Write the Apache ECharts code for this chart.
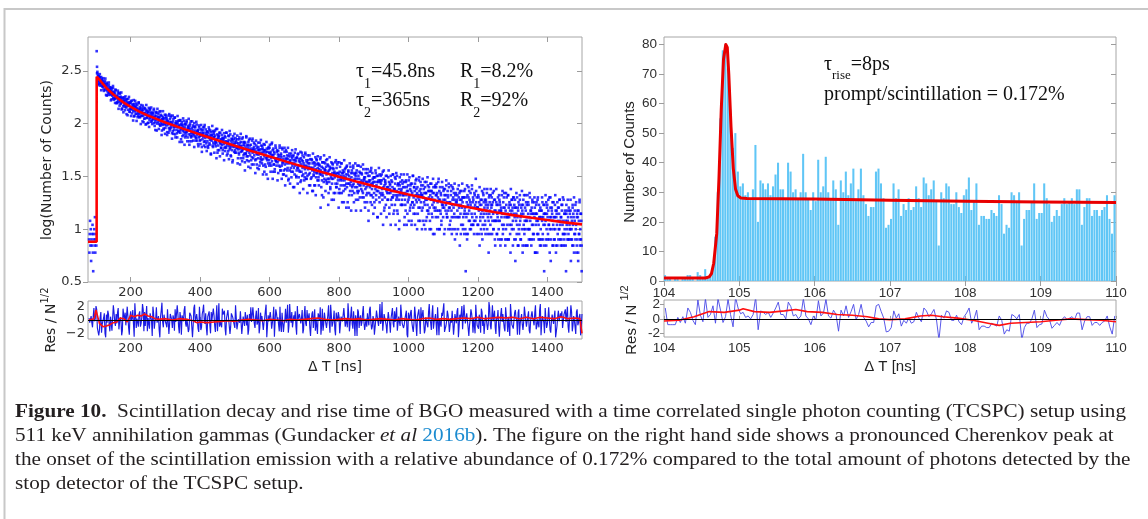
<!DOCTYPE html>
<html><head><meta charset="utf-8">
<script src="https://cdn.jsdelivr.net/npm/echarts@6/dist/echarts.min.js"></script>
<style>html,body{margin:0;padding:0;background:#fff}#c{width:1148px;height:519px}</style>
</head><body><div id="c"></div>
<script>
// ---------------- DATA ----------------
// Left panel: decay histogram, counts per 1-ns bin starting at 80 ns
const decayBinStart = 80, decayBinWidth = 1;
const decayCounts = [
8,6,9,12,7,10,5,8,7,9,11,6,4,9,8,10,7,13,6,8,
9,7,485,345,309,292,250,280,282,251,269,229,275,259,242,276,230,242,255,226,
253,226,212,239,244,228,253,208,227,216,229,184,236,211,223,212,195,232,197,212,
187,204,219,191,208,170,198,201,188,217,176,188,168,200,189,172,210,174,179,156,
181,160,185,194,168,160,172,196,148,176,164,180,156,169,136,174,160,177,146,162,
164,150,177,144,155,164,150,169,123,159,146,153,135,171,148,159,152,129,137,157,
138,163,139,142,125,149,153,131,146,117,153,142,131,164,124,134,144,124,139,151,
115,133,127,156,123,136,143,115,130,119,150,126,134,130,105,135,119,141,126,111,
125,112,137,121,132,99,125,113,133,118,127,102,141,120,109,114,135,127,104,120,
127,109,99,119,125,113,133,101,115,109,119,87,126,109,118,111,100,127,104,115,
123,113,99,116,106,96,131,101,109,118,86,110,97,115,111,90,104,100,121,98,
91,104,116,96,109,83,104,106,98,119,91,100,86,110,103,91,119,94,98,81,
100,85,105,111,92,87,97,114,79,101,93,105,87,98,74,102,92,106,83,95,
97,86,107,82,91,98,88,103,67,96,86,92,78,106,88,98,92,74,81,98,
83,103,84,87,74,92,95,79,91,68,96,88,79,105,74,82,91,76,87,96,
69,83,79,101,76,86,92,69,82,73,98,78,85,83,64,87,74,92,81,69,
81,70,89,77,86,60,80,71,87,75,82,62,93,77,68,73,88,82,65,78,
84,68,61,77,82,73,88,63,75,70,78,52,83,69,78,72,62,85,66,75,
83,74,64,77,68,61,89,65,71,79,53,73,62,77,74,56,68,66,82,64,
59,70,78,63,73,52,69,71,64,81,59,67,55,74,68,59,82,62,65,52,
67,55,70,76,61,57,64,79,50,68,61,72,56,65,45,69,61,72,54,64,
66,56,73,53,61,66,59,71,42,65,57,62,51,74,58,66,62,47,54,67,
55,72,56,58,47,63,66,52,62,43,66,59,52,74,49,55,62,49,59,67,
44,56,53,72,50,58,63,45,56,48,69,53,58,56,41,60,50,64,54,45,
54,46,62,52,59,38,56,47,60,51,56,40,66,53,46,48,62,57,42,53,
58,46,40,54,56,49,63,41,51,47,54,33,58,47,54,49,42,60,45,53,
59,52,42,54,47,40,64,44,50,56,35,50,41,54,52,37,47,45,59,44,
40,47,56,43,51,34,48,50,45,59,39,46,36,52,48,40,59,42,44,33,
46,36,49,54,41,37,44,56,32,47,42,50,38,46,29,49,42,52,36,44,
45,38,52,35,42,47,40,49,25,45,38,42,33,53,40,47,44,31,36,48,
38,51,38,40,31,44,46,35,43,28,47,41,35,53,32,38,44,33,42,48,
29,39,37,51,34,40,45,30,39,32,50,37,42,39,26,42,34,46,38,30,
38,31,45,36,42,23,38,32,43,35,40,26,48,37,31,34,45,41,29,38,
42,31,26,37,40,34,46,16,36,33,39,21,43,32,38,34,28,43,30,37,
42,36,29,39,33,28,46,30,35,40,22,36,28,39,37,25,33,31,43,30,
27,34,41,30,37,22,34,35,31,43,27,33,25,38,34,27,43,29,31,22,
33,24,35,39,29,26,32,42,22,34,29,36,26,32,18,35,29,37,24,31,
33,27,39,25,30,33,27,36,16,32,27,30,23,39,28,34,31,21,25,34,
26,38,27,29,22,33,34,25,32,19,34,30,25,40,22,27,32,23,30,35,
20,28,26,39,24,29,33,20,28,22,37,26,30,29,18,31,24,34,28,21,
28,22,34,26,32,15,28,22,32,25,29,18,36,27,21,24,34,30,20,28,
31,22,18,28,31,24,34,19,26,23,28,13,32,23,29,25,20,33,22,28,
32,27,21,29,24,19,35,21,25,30,15,26,20,29,27,17,24,23,32,22,
19,25,31,22,28,14,24,26,22,32,19,23,17,28,25,20,33,21,23,15,
24,17,27,30,21,19,23,32,15,26,21,27,19,24,12,26,22,28,17,23,
24,19,29,17,22,25,21,28,11,25,19,22,15,29,21,25,23,14,18,26,
19,29,20,21,15,24,26,17,23,12,27,22,18,32,16,20,25,17,23,27,
14,21,19,30,18,22,25,14,20,16,29,19,23,21,12,24,18,26,21,15,
21,16,26,20,24,11,22,17,25,19,22,12,28,19,15,17,26,23,14,20,
23,16,12,21,23,19,27,14,20,17,22,9,25,18,22,19,15,26,16,21,
25,21,15,22,18,13,28,15,19,23,10,19,15,22,21,12,18,17,25,16,
13,19,24,16,21,10,19,21,17,26,14,18,13,23,20,15,27,16,18,11,
18,12,21,23,15,13,17,25,10,20,16,22,14,19,8,21,17,22,13,18,
19,15,24,13,17,20,16,22,7,19,14,17,11,23,16,20,18,10,13,20,
14,23,15,16,10,4,20,13,18,8,21,17,14,25,12,15,19,12,18,22,
10,16,14,24,13,18,20,11,16,12,22,14,17,16,30,18,13,20,16,11,
16,11,20,15,18,7,17,12,19,14,17,9,23,15,11,13,21,18,10,16,
19,12,9,17,18,15,22,10,16,13,17,6,20,14,18,15,11,21,13,17,
20,17,12,18,14,10,23,12,15,19,7,15,12,18,17,9,14,13,20,12,
10,15,19,12,17,7,15,16,13,21,11,14,9,18,16,11,22,13,14,8,
15,10,17,20,13,11,14,21,8,16,13,18,11,15,6,17,14,19,10,15,
16,12,20,10,14,17,13,19,5,16,12,14,9,20,13,16,15,7,10,17,
11,19,12,13,8,16,17,10,15,6,17,14,11,21,9,12,16,10,15,18,
7,13,12,21,10,14,17,8,13,10,20,12,15,14,7,16,11,18,14,9,
14,9,18,13,16,6,14,11,17,12,14,6,19,12,9,11,17,15,8,13,
16,10,7,13,15,12,18,8,13,11,14,4,17,11,14,12,8,18,10,14,
17,13,9,15,11,8,20,10,13,16,5,13,10,16,14,7,12,11,18,10,
8,13,17,10,15,6,13,14,11,18,9,12,8,16,14,10,19,11,12,7,
13,8,15,17,11,9,12,19,7,14,10,15,9,12,4,14,11,15,8,12,
13,9,16,8,11,14,10,15,5,13,10,12,7,17,11,14,13,6,9,15,
9,17,10,11,6,13,14,8,13,5,15,12,9,18,7,10,14,8,12,4
];
// Further points of the same decay (every 2 ns from 103 ns), they widen the visible band
const decayHaloStart = 103, decayHaloStep = 2;
const decayHalo = [
300,235,278,237,294,243,207,264,223,269,204,236,267,187,243,202,187,245,202,221,
166,216,184,227,173,196,157,207,177,157,205,138,178,192,154,197,139,164,128,171,
134,181,142,170,120,156,179,130,158,118,165,136,107,167,118,147,155,106,137,119,
159,115,138,99,141,118,148,103,125,140,98,150,114,101,130,93,138,115,142,105,
126,111,138,95,103,129,86,138,113,89,130,96,121,78,99,131,88,112,80,121,
112,78,102,82,123,89,115,103,72,119,80,94,114,74,101,81,118,85,107,67,
108,71,98,76,112,83,63,100,77,107,68,90,111,63,100,76,68,105,80,93,
60,94,74,104,69,86,61,96,76,64,97,54,81,92,67,97,60,77,55,84,
59,92,65,86,51,77,95,60,80,53,86,67,47,89,56,77,82,49,71,59,
87,56,73,45,76,60,82,50,67,77,46,85,59,49,71,43,76,60,80,53,
69,59,77,47,53,71,41,80,61,44,74,50,67,36,52,76,45,63,39,70,
62,38,56,41,72,47,66,57,34,69,41,51,66,37,57,43,70,45,61,33,
64,35,56,39,67,45,30,58,40,63,35,51,66,30,58,41,35,62,44,54,
29,55,40,62,36,50,30,57,43,33,59,26,46,54,36,59,30,43,27,49,
31,56,35,50,25,45,57,32,47,27,52,36,22,54,29,45,50,24,40,31,
53,30,43,22,45,33,50,26,38,46,23,52,33,26,42,21,46,34,49,29,
41,33,48,25,29,43,20,50,36,23,45,27,41,17,30,48,24,38,19,42,
38,19,33,22,45,25,41,34,16,43,22,30,42,18,34,23,45,26,38,16,
40,18,35,21,42,26,15,36,23,40,18,30,42,15,36,23,19,40,26,34,
15,34,23,41,20,31,16,37,25,18,37,12,29,35,21,38,17,27,14,31,
16,36,21,32,13,28,38,18,29,14,33,22,11,36,16,28,32,13,25,19,
36,16,27,11,29,20,33,14,24,31,11,34,20,14,27,10,31,21,33,17,
27,21,33,13,17,28,11,33,23,12,31,16,27,11,18,32,14,25,11,29,
24,10,21,12,31,16,28,22,10,30,12,18,28,10,22,13,31,15,25,10,
27,10,23,13,30,16,9,25,13,27,10,20,30,10,25,14,11,28,17,23,
9,24,15,29,13,21,10,25,16,10,26,9,19,24,13,27,10,18,9,21,
10,26,13,23,9,19,27,11,20,9,24,14,9,26,9,20,23,10,17,11,
26,11,19,9,21,12,23,9,16,21,9,25,13,10,19,8,22,14,24,11,
19,14,24,9,12,21,9,24,16,9,22,10,19,8,12,24,9,17,8,21,
18,8,15,8,23,10,20,16,7,22,8,13,21,8,17,9,24,11,19,7,
20,8,16,8,22,11,7,18,9,21,8,14,23,7,19,10,7,21,12,17,
7,18,10,22,8,15,8,19,11,8,20,6,14,18,9,20,8,13,7,15,
8,20,9,17,7,14,21,7,16,8,19,11,6,20,8,15,18,7,13,8,
21,7,15,7,16,10,19,8,13,17,7,20,9,8,14,7,17,10,19,8,
15,10,19,8,8,16,7,20,12,8,18,7,15,6,9,19,8,14,7
];
// Left fit curve [ns, counts]
const decayFit = [[77,7.6],[101.9,7.6],[102,278],[106,271],[110,261],[115,249],[120,238],[125,228],[130,218],[140,202],[150,189],[165,172],[180,158],[200,144],[225,130],[250,119],[300,102.5],[350,89.6],[400,78.8],[450,69.5],[500,61.6],[550,54.7],[600,48.7],[650,43.4],[700,38.8],[750,34.8],[800,31.3],[850,28.3],[900,25.6],[950,23.3],[1000,21.3],[1050,19.6],[1100,18.0],[1150,16.7],[1200,15.5],[1250,14.5],[1300,13.6],[1350,12.9],[1400,12.2],[1450,11.6],[1500,11.1]];
// Left residuals: set A at 80+4i ns, set B at 82+4i ns
const decayResStart = 80, decayResStep = 4;
const decayResA = [
0.3,0.1,-0.4,0.5,-0.2,2.1,-1.2,-2.3,0.4,-1.9,-0.8,1.0,-2.6,-0.4,0.9,-1.7,0.2,-1.3,1.1,-0.9,
-0.5,1.8,-0.3,0.0,-1.6,0.7,1.1,-0.8,0.5,-2.2,1.3,0.3,-0.6,2.5,-1.2,-0.2,0.9,-1.0,0.4,1.6,
1.2,-0.7,-1.7,0.4,1.0,-0.1,2.0,-1.3,0.2,-0.4,0.6,-2.6,1.4,-0.3,0.8,0.0,-1.1,1.8,-0.6,0.5,
-1.2,0.2,1.6,-0.5,0.9,-2.0,0.3,0.7,-0.2,2.1,-1.0,0.1,-1.4,1.2,0.4,-0.8,2.3,-0.4,0.0,-1.8,
0.2,-1.1,1.4,-0.1,1.0,-2.3,0.4,-0.8,1.2,-0.2,0.7,-1.8,2.2,0.1,-1.0,-0.4,1.7,0.9,-1.3,0.3,
1.5,0.4,-1.0,0.9,-0.2,-1.2,2.5,-0.7,0.3,1.3,-2.1,0.5,-0.9,1.1,0.8,-1.5,0.0,-0.3,1.9,-0.5,
0.5,-0.7,1.8,-1.1,0.0,0.8,-0.3,1.4,-2.6,0.7,-0.4,0.2,-1.3,2.0,-0.1,1.0,0.4,-1.7,-0.8,1.1,
-1.8,0.0,-0.4,2.3,-0.8,0.4,1.2,-1.4,0.1,-1.0,2.1,-0.2,0.7,0.3,-2.0,0.9,-0.5,1.5,0.2,-1.2,
-0.3,1.3,-0.9,-1.6,0.5,1.0,-0.1,-2.2,1.7,-0.6,0.2,-1.2,0.8,-0.4,2.3,-1.0,0.1,-1.4,1.1,-0.2,
0.6,-1.9,0.3,0.0,1.5,-0.8,-1.1,0.9,-0.5,2.0,-1.3,-0.3,0.7,-2.4,1.2,0.2,-0.9,1.0,-0.4,-1.5,
-1.0,0.8,1.6,-0.4,-1.0,0.1,-2.0,1.4,-0.2,0.4,-0.6,2.7,-1.5,0.3,-0.8,0.0,1.2,-1.9,0.6,-0.5,
1.3,-0.2,-1.6,0.5,-0.9,2.1,-0.3,-0.7,0.2,-2.2,1.1,-0.1,1.5,-1.2,-0.4,0.8,-2.4,0.4,0.0,1.9,
-0.2,1.2,-1.5,0.1,-1.1,2.4,-0.4,0.9,-1.3,0.2,-0.7,1.9,-2.3,-0.1,1.1,0.5,-1.8,-0.9,1.4,-0.3,
-1.6,-0.4,1.1,-0.9,0.2,1.3,-2.6,0.8,-0.3,-1.4,2.3,-0.5,1.0,-1.2,-0.8,1.6,0.0,0.3,-2.0,0.6,
-0.6,0.8,-1.9,1.2,0.0,-0.7,0.3,-1.5,2.7,-0.8,0.4,-0.2,1.4,-2.1,0.1,-1.0,-0.4,1.8,0.9,-1.2,
1.9,0.0,0.5,-2.4,0.9,-0.4,-1.3,1.5,-0.1,1.1,-2.2,0.2,-0.7,-0.3,2.1,-1.0,0.6,-1.6,-0.2,1.3,
0.3,1.1,-1.4,0.1,-1.1,2.4,-0.4,0.9,-2.0,0.2,-0.7,1.9,-1.5,-0.1,1.1,0.5,-2.6,-0.9,1.4,-0.3,
0.4,-1.2,0.8,1.6,-0.5,-1.0,0.1,2.2,-1.7,0.6,-0.2,1.2,-0.8,0.5,-2.3,0.9
];
const decayResB = [
-0.4,0.6,-1.1,1.8,0.2,1.6,-0.9,-1.5,1.2,-0.6,0.3,-2.0,0.8,1.4,-0.7,0.5,-1.6,2.2,-0.3,0.9,
1.1,-1.4,0.4,-2.3,1.7,0.0,-0.8,2.0,-1.2,0.6,-0.1,1.5,-2.5,0.7,0.2,-1.0,1.3,-0.5,2.4,-1.7,
-0.9,2.1,0.3,-1.3,0.8,-2.4,1.0,-0.2,1.9,-0.7,-1.5,0.5,2.6,-1.1,0.1,-0.6,1.6,-2.1,0.9,0.0,
0.7,-1.6,-0.3,2.2,-1.0,1.2,-2.2,0.4,1.5,-0.5,0.2,-1.8,1.1,0.6,-2.6,1.8,-0.4,0.9,-1.3,2.0,
-1.5,0.9,2.3,-0.6,-1.2,0.5,1.3,-2.0,0.0,1.7,-0.9,0.3,-1.7,2.5,-0.2,-1.1,0.8,1.4,-2.3,0.6,
0.2,-2.1,1.0,0.4,-0.7,2.2,-1.4,0.1,-0.4,1.6,-1.9,0.7,1.2,-0.8,-2.2,0.9,1.9,-0.3,0.5,-1.2,
1.4,-0.3,-2.0,1.1,0.6,-1.5,0.3,2.3,-0.9,-0.2,1.2,-1.3,0.4,-2.5,1.6,0.0,-0.7,2.0,-1.8,0.8,
-0.6,1.7,0.5,-1.9,2.4,-0.4,-1.1,0.7,1.3,-2.2,0.1,0.9,-0.5,1.5,-1.4,2.1,-0.9,-0.1,1.0,-2.4,
0.9,-1.2,1.6,0.2,-2.1,0.6,1.9,-0.8,-1.6,1.1,0.4,-0.3,2.2,-1.9,0.7,-0.5,1.4,-2.3,0.3,1.2,
-2.0,0.5,-0.2,1.8,-1.0,0.3,2.5,-1.7,0.8,-0.6,1.3,-2.4,0.0,1.6,-1.2,0.7,-0.4,2.1,-1.5,0.2,
1.0,-0.8,2.0,-1.4,0.6,-2.2,0.1,1.5,-0.9,2.4,-0.1,-1.6,0.9,0.4,-2.0,1.2,-0.6,0.3,1.8,-1.1,
-0.3,1.9,-1.7,0.8,2.3,-0.5,-1.2,0.2,1.4,-2.6,0.6,1.1,-0.4,-1.8,2.0,-0.9,0.5,1.6,-2.1,0.0,
1.5,-2.0,0.4,-0.7,1.2,0.0,-1.5,2.2,-0.3,0.9,-2.3,1.7,0.1,-1.0,0.6,2.5,-1.3,-0.2,0.8,-1.8,
0.3,1.4,-2.2,0.9,-0.5,1.8,-1.0,-0.1,2.1,-1.6,0.7,-0.4,1.3,-2.4,0.2,1.0,-1.9,0.6,2.3,-0.8,
-1.3,0.1,1.7,-0.9,-2.1,0.8,0.4,-0.6,1.9,-1.4,2.2,-0.2,-1.1,0.5,1.5,-2.5,0.9,-0.3,1.2,-1.7,
0.6,-1.8,0.2,2.4,-0.7,-1.3,1.1,0.3,-2.2,1.6,-0.5,0.9,-1.5,2.0,-0.1,-0.9,1.3,-2.0,0.7,0.4,
-0.8,2.2,-1.0,0.1,1.5,-2.3,0.6,-0.4,1.8,-1.2,0.3,2.1,-1.9,0.8,-0.6,1.4,-2.4,0.5,-0.2,1.0,
1.3,-1.5,0.7,-0.3,2.0,-1.9,0.5,1.2,-0.8,0.0,-2.1,1.6,-0.4,0.9,-1.1
];
const decayResSmooth = [[80,0],[95,0.2],[100,1.5],[104,1.3],[110,-0.5],[120,-1.0],[130,-0.9],[140,-0.7],[150,-0.4],[160,-0.3],[170,0.3],[180,0.2],[190,-0.3],[200,0.7],[210,0.5],[220,0.7],[230,0.6],[240,0.9],[250,0.6],[260,0.5],[270,0.2],[280,0.1],[300,0.2],[320,0.0],[340,0.2],[360,0.1],[380,-0.1],[390,-0.4],[400,-0.3],[420,-0.4],[440,-0.3],[460,-0.2],[480,-0.1],[500,-0.2],[520,0.0],[540,0.1],[560,0.0],[580,-0.1],[600,0.1],[620,0.0],[640,-0.1],[660,0.1],[680,0.0],[700,0.1],[720,0.2],[740,0.3],[760,0.1],[780,0.0],[800,0.1],[820,0.2],[840,0.1],[860,0.2],[880,0.0],[900,0.1],[920,0.2],[940,0.1],[960,0.0],[980,0.2],[1000,0.1],[1020,0.0],[1040,0.2],[1060,0.3],[1080,0.1],[1100,0.2],[1120,0.1],[1140,0.2],[1160,0.3],[1180,0.2],[1200,0.4],[1220,0.2],[1240,0.3],[1260,0.4],[1280,0.3],[1300,0.4],[1320,0.2],[1340,0.4],[1360,0.2],[1380,0.4],[1400,0.3],[1420,0.2],[1440,0.5],[1460,0.2],[1480,0.3],[1494,0.2],[1497,-1.0],[1500,-2.0]];

// Right panel: rise histogram, bins of 1/30 ns starting at 104 ns
const riseBinStart = 104, riseBinWidth = 1/30;
const riseCounts = [
2,1,1,0,1,1,0,1,1,2,2,1,0,3,2,1,4,1,
2,4,15,30,55,78,80,72,58,45,
50,37,32,33,29,30,28,31,46,20,34,33,31,33,29,32,36,40,31,31,28,40,37,30,31,28,30,43,30,28,24,30,
27,41,30,32,42,30,28,34,31,19,34,30,37,29,33,38,27,31,38,29,26,22,25,25,37,38,33,28,18,19,
21,33,28,31,22,26,24,28,24,25,32,28,25,35,33,29,31,34,27,12,30,28,33,32,26,26,30,25,23,29,
31,35,24,27,33,19,22,22,21,21,24,23,22,29,26,16,19,18,30,29,27,30,12,21,24,24,27,33,21,23,
23,33,28,26,20,22,24,22,26,28,26,27,28,26,31,31,19,25,28,28,22,24,24,22,24,25,29,21,16,29
];
const riseFit = [[104,1],[104.55,1],[104.6,1.4],[104.63,2.5],[104.66,6],[104.7,16],[104.73,35],[104.76,58],[104.79,75],[104.82,80],[104.84,79],[104.86,70],[104.89,52],[104.92,38],[104.95,31],[104.98,28.8],[105.02,28.1],[105.1,27.9],[106,27.7],[107,27.3],[108,27.0],[109,26.7],[110,26.5]];
const riseRes = [
1.5,-0.8,-0.8,-0.8,-0.8,0.2,-0.5,0.3,-0.6,1.5,0.9,-0.2,-0.8,2.6,0.5,-0.4,2.8,0.2,
0.6,1.8,-0.6,2.8,1.2,-0.5,0.3,2.7,0.6,-1.1,
3.0,1.5,0.7,0.9,0.2,0.4,0.0,0.6,3.0,-1.5,1.1,0.9,0.6,0.9,0.2,0.8,1.5,2.3,0.6,0.6,0.0,2.3,1.7,0.4,0.6,0.0,0.4,2.8,0.4,0.0,-0.8,0.4,
-0.1,2.5,0.4,0.8,2.7,0.4,0.1,1.2,0.6,-1.7,1.2,0.4,1.8,0.2,1.0,2.0,-0.1,0.6,2.0,0.2,-0.3,-1.1,-0.5,-0.5,1.8,2.0,1.0,0.1,-1.8,-1.7,
-1.2,1.1,0.1,0.7,-1.0,-0.2,-0.6,0.1,-0.6,-0.4,0.9,0.1,-0.4,1.5,1.1,0.3,0.7,1.3,-0.1,-2.9,0.5,0.1,1.1,0.9,-0.2,-0.2,0.5,-0.4,-0.8,0.3,
0.8,1.5,-0.6,0.0,1.2,-1.5,-1.0,-1.0,-1.2,-1.2,-0.6,-0.8,-1.0,0.4,-0.2,-2.1,-1.5,-1.7,0.6,0.4,0.0,0.6,-2.9,-1.2,-0.6,-0.6,0.0,1.2,-1.2,-0.8,
-0.7,1.2,0.3,-0.1,-1.3,-0.9,-0.5,-0.9,-0.1,0.3,-0.1,0.1,0.3,-0.1,0.8,0.8,-1.5,-0.3,0.3,0.3,-0.9,-0.5,-0.5,-0.9,-0.5,-0.3,0.4,-1.1,-2.1,0.4
];
const riseResSmooth = [[104,-0.3],[104.2,-0.2],[104.4,0.3],[104.6,1.0],[104.8,0.9],[105.0,1.2],[105.05,1.4],[105.2,1.0],[105.4,0.9],[105.6,1.1],[105.75,1.3],[105.9,1.0],[106.1,0.9],[106.3,0.6],[106.5,0.5],[106.7,0.3],[106.85,0.0],[107.0,-0.1],[107.2,0.0],[107.4,0.4],[107.55,0.5],[107.7,0.3],[107.9,0.1],[108.1,-0.2],[108.3,-0.6],[108.45,-0.9],[108.6,-0.6],[108.8,-0.5],[109.0,-0.4],[109.2,-0.2],[109.4,0.0],[109.6,-0.1],[109.8,-0.2],[110,-0.4]];

// Tick labels
const leftXTicks = [200,400,600,800,1000,1200,1400];
const leftYTicks = [0.5,1,1.5,2,2.5];
const resTicks = [-2,0,2];
const rightXTicks = [104,105,106,107,108,109,110];
const rightYTicks = [0,10,20,30,40,50,60,70,80];

// ---------------- CHART ----------------
const chart = echarts.init(document.getElementById('c'), null, {renderer:'canvas'});
const GRIDS = [
  {left:88, top:37, width:494, height:245},
  {left:88, top:301, width:494, height:38},
  {left:664, top:37, width:452, height:244},
  {left:664, top:300, width:452, height:37}
];
const tickCol = '#9c9c9c';
const LF = {fontFamily:'DejaVu Sans', fontSize:13, color:'#303030'};
const RF = {fontFamily:'Liberation Sans', fontSize:13.5, color:'#303030'};
const plainFmt = v => String(v);
const minusFmt = v => v < 0 ? '\u2212' + Math.abs(v) : String(v);

function xAx(g, min, max, ticks, pos, lab, margin, tickLen) {
  return {gridIndex:g, type:'value', min, max, position:pos,
    axisLine:{show:false}, splitLine:{show:false},
    axisTick:{show:tickLen>0, inside:true, length:tickLen, lineStyle:{color:tickCol}, customValues:ticks},
    axisLabel: lab ? Object.assign({show:true, margin, customValues:ticks, formatter:plainFmt}, lab) : {show:false}};
}
function yAx(g, min, max, ticks, pos, lab, margin, tickLen, inside, fmt) {
  return {gridIndex:g, type:'value', min, max, position:pos,
    axisLine:{show:false}, splitLine:{show:false},
    axisTick:{show:tickLen>0, inside, length:tickLen, lineStyle:{color:tickCol}, customValues:ticks},
    axisLabel: lab ? Object.assign({show:true, margin, customValues:ticks, formatter:fmt||plainFmt}, lab) : {show:false}};
}

const decayPoints = decayCounts.map((c,i) => [decayBinStart + i*decayBinWidth, Math.log10(c)]);
const haloPoints = decayHalo.map((c,i) => [decayHaloStart + i*decayHaloStep, Math.log10(c)]);
const decayFitLog = decayFit.map(p => [p[0], Math.log10(p[1])]);
const decayResPts = [];
decayResA.forEach((v,i) => {
  decayResPts.push([decayResStart + i*decayResStep, v]);
  if (i < decayResB.length) decayResPts.push([decayResStart + 2 + i*decayResStep, decayResB[i]]);
});
const riseBars = riseCounts.map((c,i) => [riseBinStart + i*riseBinWidth, riseBinStart + (i+1)*riseBinWidth, c]);
const riseResPts = riseRes.map((v,i) => [riseBinStart + (i+0.5)*riseBinWidth, v]);

// ---------------- TEXT HELPERS ----------------
const mctx = document.createElement('canvas').getContext('2d');
function measure(st){ mctx.font = `${st.fontStyle} ${st.fontWeight} ${st.fontSize}px "${st.fontFamily}"`; return mctx.measureText(st.text).width; }
function runs(parts, x, y, o) {
  o = o || {};
  let cx = 0; const els = [];
  for (const p of parts) {
    const st = {text:p.t, fontSize:p.size, fontFamily:p.family, fontWeight:p.weight||'normal', fontStyle:p.style||'normal',
      fill:p.color||'#111', align:'left', verticalAlign:'middle'};
    cx += (p.dx||0);
    els.push({type:'text', x:cx, y:p.dy||0, style:st, silent:true});
    cx += measure(st);
  }
  if (o.center) els.forEach(e => e.x -= cx/2);
  return {type:'group', x, y, rotation:o.rotation||0, scaleX:o.scaleX||1, children:els, silent:true};
}
const SERIF = 'Liberation Serif';
const graphics = [];
graphics.push({type:'line', shape:{x1:4, y1:9, x2:1148, y2:9}, style:{stroke:'#c8c8c8', lineWidth:2}, silent:true});
graphics.push({type:'line', shape:{x1:4.5, y1:8, x2:4.5, y2:519}, style:{stroke:'#c8c8c8', lineWidth:2}, silent:true});
const A = 20, S = 14;
graphics.push(runs([{t:'\u03c4',size:A,family:SERIF},{t:'1',size:S,family:SERIF,dy:12},{t:'=45.8ns',size:A,family:SERIF}], 356, 72));
graphics.push(runs([{t:'R',size:A,family:SERIF},{t:'1',size:S,family:SERIF,dy:12},{t:'=8.2%',size:A,family:SERIF}], 460, 72));
graphics.push(runs([{t:'\u03c4',size:A,family:SERIF},{t:'2',size:S,family:SERIF,dy:12},{t:'=365ns',size:A,family:SERIF}], 356, 101));
graphics.push(runs([{t:'R',size:A,family:SERIF},{t:'2',size:S,family:SERIF,dy:12},{t:'=92%',size:A,family:SERIF}], 460, 101));
graphics.push(runs([{t:'\u03c4',size:A,family:SERIF},{t:'rise',size:13,family:SERIF,dy:11},{t:'=8ps',size:A,family:SERIF}], 824, 65));
graphics.push(runs([{t:'prompt/scintillation = 0.172%',size:A,family:SERIF}], 824, 95));
const NC = '#222';
graphics.push(runs([{t:'log(Number of Counts)',size:14,family:'DejaVu Sans',color:NC}], 47, 160, {center:true, rotation:Math.PI/2}));
graphics.push(runs([{t:'Res / N',size:14,family:'DejaVu Sans',color:NC},{t:'1/2',size:10,family:'DejaVu Sans',color:NC,dy:-6}], 51, 320, {center:true, rotation:Math.PI/2}));
graphics.push(runs([{t:'\u0394 T [ns]',size:14,family:'DejaVu Sans',color:NC}], 335, 367, {center:true}));
graphics.push(runs([{t:'Number of Counts',size:15,family:'Liberation Sans',color:NC}], 630, 162, {center:true, rotation:Math.PI/2}));
graphics.push(runs([{t:'Res / N ',size:15,family:'Liberation Sans',color:NC},{t:'1/2',size:11,family:'Liberation Sans',color:NC,dy:-7}], 632, 320, {center:true, rotation:Math.PI/2}));
graphics.push(runs([{t:'\u0394 T [ns]',size:15,family:'Liberation Sans',color:NC}], 890, 367, {center:true}));
const CS = 18, CC = '#231f20';
const capLines = [
  [{t:'Figure 10.',weight:'bold'},{t:'  Scintillation decay and rise time of BGO measured with a time correlated single photon counting (TCSPC) setup using'}],
  [{t:'511 keV annihilation gammas (Gundacker '},{t:'et al',style:'italic'},{t:' '},{t:'2016b',color:'#1b8bd0'},{t:'). The figure on the right hand side shows a pronounced Cherenkov peak at'}],
  [{t:'the onset of the scintillation emission with a relative abundance of 0.172% compared to the total amount of photons detected by the'}],
  [{t:'stop detector of the TCSPC setup.'}]
];
const capParts = capLines.map(l => l.map(p => Object.assign({size:CS, family:SERIF, color:CC}, p)));
let w1 = 0; capParts[0].forEach(p => { w1 += measure({text:p.t, fontSize:p.size, fontFamily:p.family, fontWeight:p.weight||'normal', fontStyle:p.style||'normal'}); });
const capScale = 1111 / w1;
capParts.forEach((l,i) => graphics.push(runs(l, 15, 412 + i*24, {scaleX:capScale})));

const option = {
  animation:false,
  backgroundColor:'#fff',
  grid: GRIDS.map(g => Object.assign({show:true, borderColor:'#a6a6a6', borderWidth:1, backgroundColor:'transparent'}, g)),
  xAxis: [
    xAx(0, 77, 1500, leftXTicks, 'bottom', LF, 4, 5),
    xAx(0, 77, 1500, leftXTicks, 'top', null, 0, 5),
    xAx(1, 77, 1500, leftXTicks, 'bottom', LF, 3, 3),
    xAx(2, 104, 110, rightXTicks, 'bottom', RF, 5, 5),
    xAx(2, 104, 110, rightXTicks, 'top', null, 0, 5),
    xAx(3, 104, 110, rightXTicks, 'bottom', RF, 4, 3)
  ],
  yAxis: [
    yAx(0, 0.5, 2.82, leftYTicks, 'left', LF, 6, 5, false),
    yAx(0, 0.5, 2.82, leftYTicks, 'right', null, 0, 5, true),
    yAx(1, -2.85, 2.85, resTicks, 'left', LF, 3, 0, false, minusFmt),
    yAx(2, 0, 82.5, rightYTicks, 'left', RF, 7, 5, false),
    yAx(2, 0, 82.5, rightYTicks, 'right', null, 0, 5, true),
    yAx(3, -2.5, 2.6, resTicks, 'left', RF, 4, 4, false)
  ],
  series: [
    {type:'scatter', xAxisIndex:0, yAxisIndex:0, data:haloPoints, symbol:'rect', symbolSize:2.6,
      itemStyle:{color:'#0000ff'}, silent:true, progressive:0, clip:true, z:2},
    {type:'scatter', xAxisIndex:0, yAxisIndex:0, data:decayPoints, symbol:'rect', symbolSize:2.6,
      itemStyle:{color:'#0000ff'}, silent:true, progressive:0, clip:true, z:2},
    {type:'line', xAxisIndex:0, yAxisIndex:0, data:decayFitLog, symbol:'none',
      lineStyle:{color:'#ff0000', width:2.6}, silent:true, clip:true, z:3},
    {type:'line', xAxisIndex:2, yAxisIndex:2, data:decayResPts, symbol:'none', lineStyle:{color:'#1c1ce4', width:1.15},
      silent:true, clip:true, z:2,
      markLine:{silent:true, symbol:'none', label:{show:false}, lineStyle:{color:'#000', width:1.2, type:'solid'}, data:[{yAxis:0}]}},
    {type:'line', xAxisIndex:2, yAxisIndex:2, data:decayResSmooth, symbol:'none', lineStyle:{color:'#ff1010', width:1.6}, silent:true, clip:true, z:4},
    {type:'custom', xAxisIndex:3, yAxisIndex:3, data:riseBars, encode:{x:[0,1], y:2}, clip:true, silent:true, z:2,
      renderItem:(params, api) => {
        const p0 = api.coord([api.value(0), api.value(2)]);
        const p1 = api.coord([api.value(1), 0]);
        return {type:'rect', shape:{x:p0[0], y:p0[1], width:Math.max(0.5, p1[0]-p0[0]-0.45), height:p1[1]-p0[1]}, style:{fill:'#60c6f6'}};
      }},
    {type:'line', xAxisIndex:3, yAxisIndex:3, data:riseFit, symbol:'none', lineStyle:{color:'#e80000', width:3, join:'round'}, silent:true, clip:true, z:3},
    {type:'line', xAxisIndex:5, yAxisIndex:5, data:riseResPts, symbol:'none', lineStyle:{color:'#4646e6', width:0.9}, silent:true, clip:true, z:2,
      markLine:{silent:true, symbol:'none', label:{show:false}, lineStyle:{color:'#000', width:1.2, type:'solid'}, data:[{yAxis:0}]}},
    {type:'line', xAxisIndex:5, yAxisIndex:5, data:riseResSmooth, symbol:'none', lineStyle:{color:'#ff1010', width:1.6}, silent:true, clip:true, z:4}
  ],
  graphic: graphics
};
chart.setOption(option);
</script></body></html>
